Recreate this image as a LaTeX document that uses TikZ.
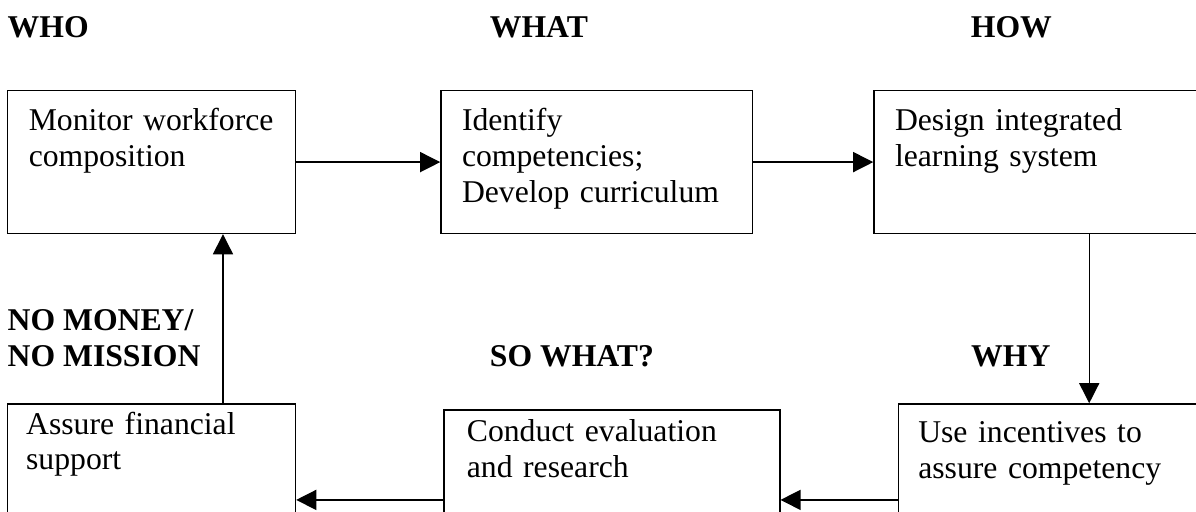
\documentclass[tikz,border=0pt]{standalone}
\usepackage{fontspec}
\setmainfont{Liberation Serif}
\usetikzlibrary{positioning, arrows.meta, calc}

\begin{document}
\begin{tikzpicture}[font=\fontsize{12pt}{13.6pt}\selectfont,>={Triangle[length=7.6pt,width=7.6pt]},line width=.5pt,
  stage/.style={draw,align=left,inner xsep=8pt,inner ysep=0pt,text height=15.1pt,text depth=39pt},
  lowstage/.style={stage,text height=#1,text depth=72.7pt-#1},
  hd/.style={font=\fontsize{12pt}{13.6pt}\selectfont\bfseries,align=left,inner sep=0pt,anchor=base west}]
  \useasboundingbox (-0.0931,1.1975) rectangle (15.821,-5.615);
  \clip (-0.0931,1.1975) rectangle (15.821,-5.615);
  % top row
  \node[stage,anchor=north west,text width=93pt](mon) at (0,0){Monitor workforce\\ composition};
  \node[stage,right=1.916cm of mon,text width=102pt](iden){Identify\\ competencies;\\ Develop curriculum};
  \node[stage,right=1.597cm of iden,text width=127.5pt](des){Design integrated\\ learning system};
  % bottom row
  \node[lowstage=11.4pt,below=2.249cm of mon.south west,anchor=north west,inner xsep=7pt,text width=95pt](fin){Assure financial\\ support};
  \node[stage,right=1.956cm of fin,inner xsep=8.7pt,text height=12.1pt,text depth=56pt,text width=109.8pt](eval){Conduct evaluation\\ and research};
  \node[lowstage=14.5pt,right=1.557cm of eval,inner xsep=7.6pt,text width=128.3pt](inc){Use incentives to\\ assure competency};
  % headings
  \node[hd](who) at ([yshift=0.692cm]mon.north west){WHO};
  \node[hd](what) at ([xshift=0.652cm,yshift=0.692cm]iden.north west){WHAT};
  \node[hd](how) at ([xshift=1.29cm,yshift=0.692cm]des.north west){HOW};
  \node[hd](money) at ([yshift=0.492cm]fin.north west){NO MONEY/\\ NO MISSION};
  \node[hd](sowhat) at ([xshift=0.612cm,yshift=0.572cm]eval.north west){SO WHAT?};
  \node[hd](why) at ([xshift=0.971cm,yshift=0.492cm]inc.north west){WHY};
  % connectors
  \coordinate (down) at ([xshift=2.874cm]des.south west);
  \coordinate (up) at ([xshift=2.874cm]fin.north west);
  \draw[->](mon)--(iden);
  \draw[->](iden)--(des);
  \draw[->](down)--(down |- inc.north);
  \draw[->](inc)--(eval);
  \draw[->](eval)--(fin);
  \draw[->](up)--(up |- mon.south);
\end{tikzpicture}
\end{document}
